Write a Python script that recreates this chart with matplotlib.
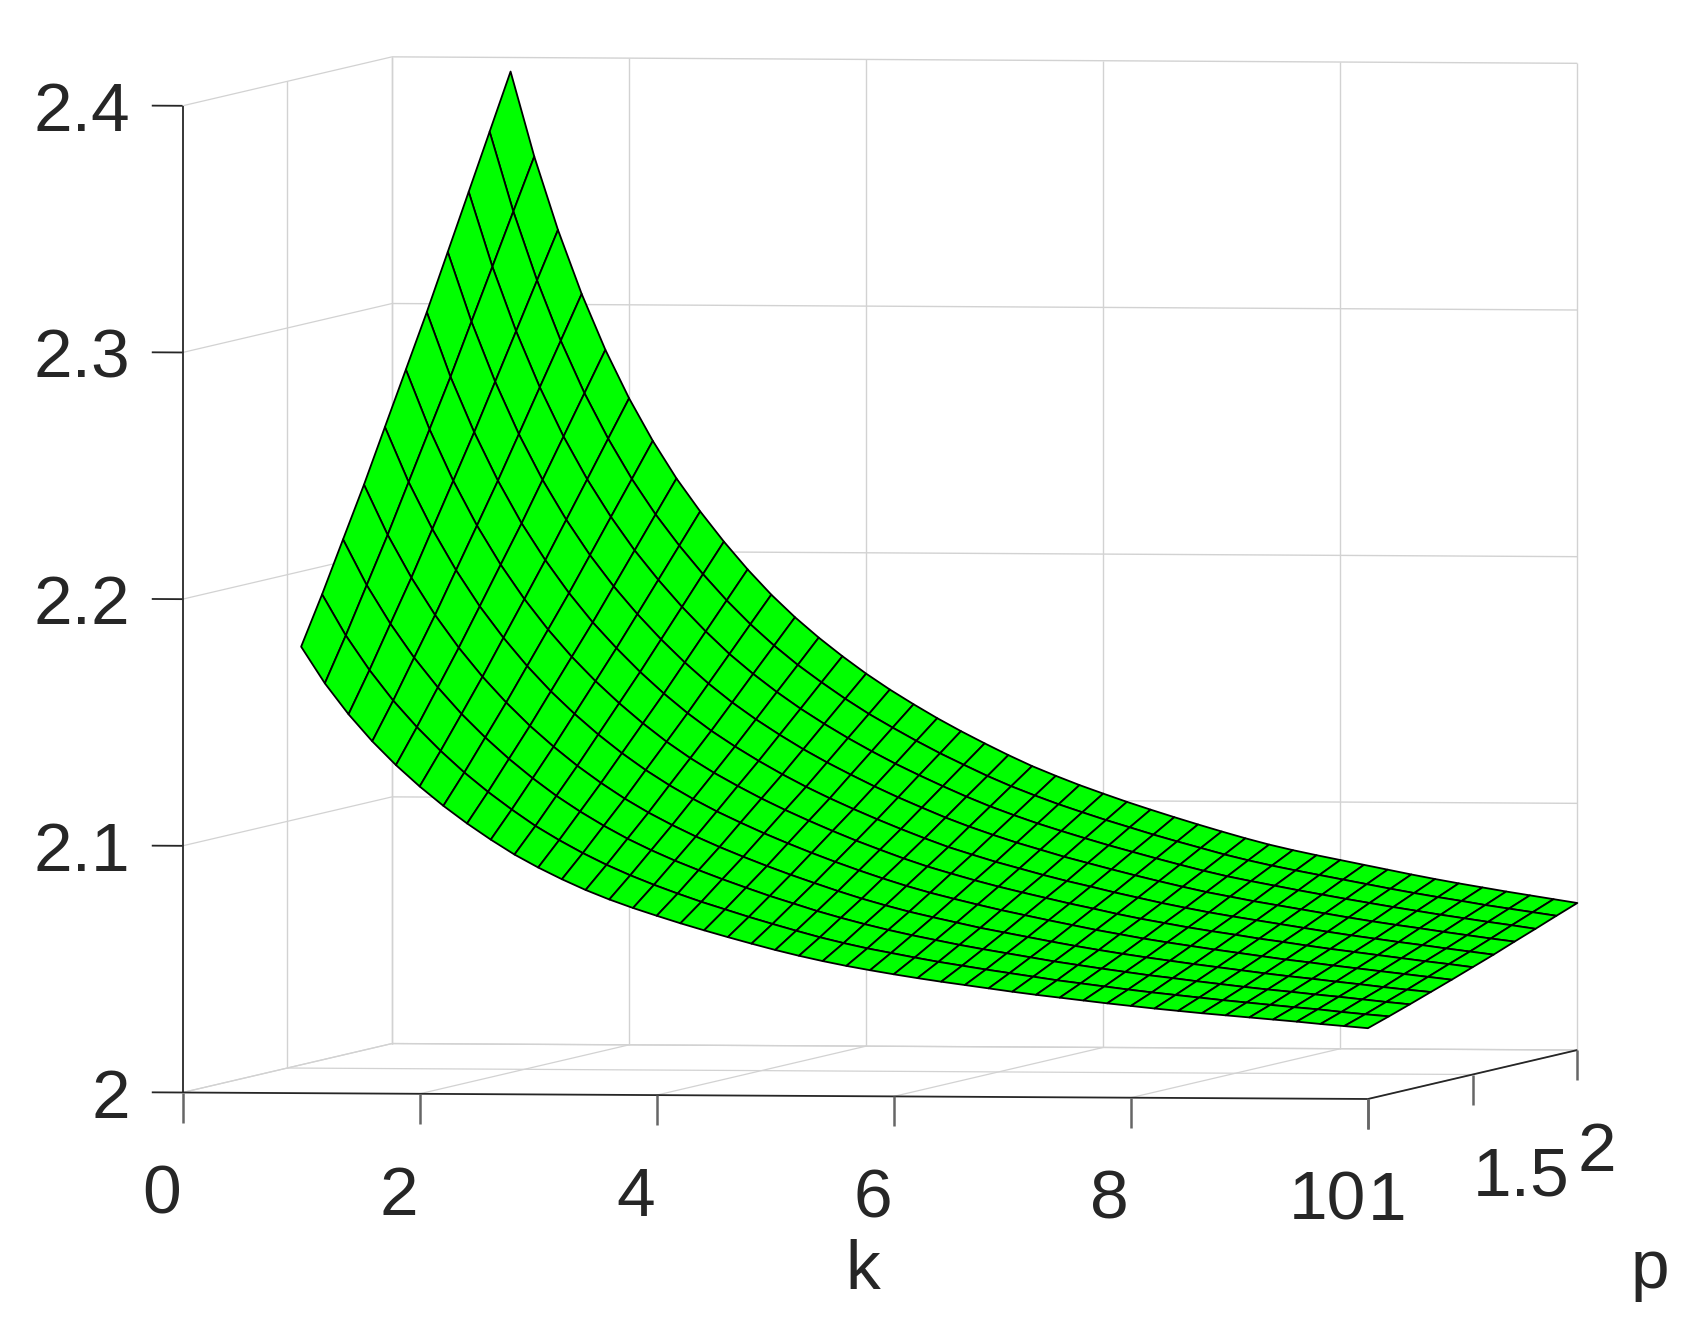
import numpy as np
import matplotlib
matplotlib.use("Agg")
import matplotlib.pyplot as plt
from mpl_toolkits.mplot3d import proj3d

plt.rcParams['font.family'] = ['Liberation Sans', 'DejaVu Sans']

k_values = [1.0, 1.2, 1.4, 1.6, 1.8, 2.0, 2.2, 2.4, 2.6, 2.8, 3.0, 3.2, 3.4, 3.6, 3.8, 4.0,
            4.2, 4.4, 4.6, 4.8, 5.0, 5.2, 5.4, 5.6, 5.8, 6.0, 6.2, 6.4, 6.6, 6.8, 7.0,
            7.2, 7.4, 7.6, 7.8, 8.0, 8.2, 8.4, 8.6, 8.8, 9.0, 9.2, 9.4, 9.6, 9.8, 10.0]
p_values = [1.0, 1.1, 1.2, 1.3, 1.4, 1.5, 1.6, 1.7, 1.8, 1.9, 2.0]

# one row per k, one column per p
z_values = [
    [2.1810, 2.2002, 2.2205, 2.2407, 2.2621, 2.2834, 2.3047, 2.3271, 2.3495, 2.3719, 2.3943],
    [2.1662, 2.1836, 2.2020, 2.2204, 2.2398, 2.2592, 2.2785, 2.2989, 2.3192, 2.3396, 2.3599],
    [2.1537, 2.1696, 2.1864, 2.2031, 2.2208, 2.2384, 2.2561, 2.2746, 2.2931, 2.3117, 2.3302],
    [2.1428, 2.1573, 2.1727, 2.1880, 2.2042, 2.2203, 2.2365, 2.2534, 2.2704, 2.2873, 2.3043],
    [2.1332, 2.1466, 2.1607, 2.1748, 2.1896, 2.2045, 2.2193, 2.2349, 2.2505, 2.2661, 2.2817],
    [2.1246, 2.1370, 2.1500, 2.1631, 2.1769, 2.1906, 2.2044, 2.2188, 2.2332, 2.2477, 2.2621],
    [2.1168, 2.1283, 2.1405, 2.1527, 2.1655, 2.1783, 2.1911, 2.2045, 2.2180, 2.2314, 2.2449],
    [2.1097, 2.1205, 2.1319, 2.1433, 2.1553, 2.1673, 2.1793, 2.1919, 2.2045, 2.2171, 2.2297],
    [2.1032, 2.1134, 2.1241, 2.1349, 2.1462, 2.1575, 2.1689, 2.1807, 2.1926, 2.2045, 2.2164],
    [2.0972, 2.1068, 2.1170, 2.1272, 2.1379, 2.1486, 2.1593, 2.1705, 2.1817, 2.1930, 2.2042],
    [2.0920, 2.1011, 2.1107, 2.1203, 2.1304, 2.1405, 2.1506, 2.1612, 2.1718, 2.1824, 2.1930],
    [2.0873, 2.0959, 2.1050, 2.1140, 2.1236, 2.1331, 2.1427, 2.1527, 2.1627, 2.1728, 2.1828],
    [2.0830, 2.0912, 2.0998, 2.1084, 2.1175, 2.1265, 2.1356, 2.1451, 2.1547, 2.1642, 2.1737],
    [2.0792, 2.0870, 2.0952, 2.1034, 2.1120, 2.1206, 2.1293, 2.1383, 2.1474, 2.1564, 2.1655],
    [2.0758, 2.0832, 2.0910, 2.0988, 2.1070, 2.1153, 2.1235, 2.1321, 2.1407, 2.1494, 2.1580],
    [2.0727, 2.0797, 2.0872, 2.0946, 2.1025, 2.1103, 2.1181, 2.1263, 2.1346, 2.1428, 2.1510],
    [2.0697, 2.0764, 2.0836, 2.0907, 2.0982, 2.1057, 2.1131, 2.1210, 2.1289, 2.1367, 2.1446],
    [2.0669, 2.0734, 2.0802, 2.0870, 2.0942, 2.1014, 2.1085, 2.1161, 2.1236, 2.1312, 2.1387],
    [2.0642, 2.0704, 2.0769, 2.0835, 2.0904, 2.0973, 2.1042, 2.1114, 2.1186, 2.1259, 2.1331],
    [2.0616, 2.0676, 2.0739, 2.0802, 2.0868, 2.0934, 2.1001, 2.1070, 2.1140, 2.1209, 2.1279],
    [2.0591, 2.0649, 2.0709, 2.0770, 2.0834, 2.0898, 2.0962, 2.1029, 2.1096, 2.1163, 2.1230],
    [2.0568, 2.0623, 2.0682, 2.0740, 2.0802, 2.0863, 2.0925, 2.0989, 2.1054, 2.1118, 2.1183],
    [2.0547, 2.0600, 2.0657, 2.0713, 2.0772, 2.0831, 2.0890, 2.0953, 2.1015, 2.1077, 2.1139],
    [2.0528, 2.0579, 2.0634, 2.0688, 2.0745, 2.0803, 2.0860, 2.0920, 2.0980, 2.1040, 2.1100],
    [2.0511, 2.0561, 2.0613, 2.0666, 2.0721, 2.0776, 2.0831, 2.0889, 2.0947, 2.1005, 2.1063],
    [2.0495, 2.0543, 2.0594, 2.0645, 2.0698, 2.0751, 2.0805, 2.0861, 2.0917, 2.0973, 2.1029],
    [2.0480, 2.0526, 2.0575, 2.0624, 2.0676, 2.0728, 2.0779, 2.0833, 2.0888, 2.0942, 2.0996],
    [2.0466, 2.0511, 2.0558, 2.0606, 2.0656, 2.0706, 2.0755, 2.0808, 2.0860, 2.0913, 2.0965],
    [2.0453, 2.0496, 2.0542, 2.0588, 2.0636, 2.0684, 2.0733, 2.0783, 2.0834, 2.0884, 2.0935],
    [2.0440, 2.0482, 2.0526, 2.0570, 2.0617, 2.0664, 2.0710, 2.0759, 2.0808, 2.0857, 2.0906],
    [2.0427, 2.0468, 2.0510, 2.0553, 2.0598, 2.0643, 2.0689, 2.0736, 2.0783, 2.0831, 2.0878],
    [2.0415, 2.0454, 2.0496, 2.0537, 2.0581, 2.0624, 2.0668, 2.0714, 2.0759, 2.0805, 2.0851],
    [2.0404, 2.0442, 2.0482, 2.0522, 2.0564, 2.0607, 2.0649, 2.0693, 2.0737, 2.0782, 2.0826],
    [2.0393, 2.0430, 2.0469, 2.0508, 2.0549, 2.0590, 2.0631, 2.0675, 2.0718, 2.0761, 2.0804],
    [2.0382, 2.0418, 2.0456, 2.0495, 2.0535, 2.0575, 2.0615, 2.0657, 2.0700, 2.0742, 2.0784],
    [2.0372, 2.0407, 2.0445, 2.0482, 2.0521, 2.0561, 2.0600, 2.0641, 2.0682, 2.0724, 2.0765],
    [2.0362, 2.0397, 2.0433, 2.0470, 2.0508, 2.0546, 2.0585, 2.0625, 2.0665, 2.0706, 2.0746],
    [2.0353, 2.0387, 2.0422, 2.0458, 2.0495, 2.0533, 2.0570, 2.0609, 2.0648, 2.0688, 2.0727],
    [2.0344, 2.0377, 2.0411, 2.0446, 2.0482, 2.0519, 2.0555, 2.0593, 2.0632, 2.0670, 2.0708],
    [2.0336, 2.0368, 2.0401, 2.0435, 2.0471, 2.0506, 2.0541, 2.0578, 2.0616, 2.0653, 2.0690],
    [2.0328, 2.0359, 2.0392, 2.0425, 2.0459, 2.0494, 2.0528, 2.0564, 2.0601, 2.0637, 2.0673],
    [2.0320, 2.0350, 2.0382, 2.0414, 2.0448, 2.0482, 2.0515, 2.0551, 2.0586, 2.0622, 2.0657],
    [2.0312, 2.0342, 2.0373, 2.0404, 2.0437, 2.0470, 2.0503, 2.0537, 2.0572, 2.0606, 2.0641],
    [2.0303, 2.0332, 2.0363, 2.0393, 2.0426, 2.0458, 2.0490, 2.0524, 2.0558, 2.0592, 2.0626],
    [2.0295, 2.0323, 2.0353, 2.0383, 2.0415, 2.0447, 2.0478, 2.0511, 2.0545, 2.0578, 2.0611],
    [2.0287, 2.0315, 2.0344, 2.0374, 2.0404, 2.0435, 2.0466, 2.0499, 2.0531, 2.0564, 2.0596],
]

k_ticks = [0, 2, 4, 6, 8, 10]
p_ticks = [1, 1.5, 2]
z_ticks = [2, 2.1, 2.2, 2.3, 2.4]
k_labels = ['0', '2', '4', '6', '8', '10']
p_labels = ['1', '1.5', '2']
z_labels = ['2', '2.1', '2.2', '2.3', '2.4']

W, H = 1702, 1325
TEXT = '#262626'
GRID = '#d2d2d2'
FS = 50

fig = plt.figure(figsize=(W / 100, H / 100), dpi=100)
ax = fig.add_axes([0, 0, 1, 1], projection='3d', proj_type='ortho')
ax.view_init(elev=2.05, azim=-81.3)
ax.set_xlim(0, 10)
ax.set_ylim(1, 2)
ax.set_zlim(2, 2.4)
ax.set_axis_off()
ax.computed_zorder = False


def to_xy(k, p, z):
    x, y, _ = proj3d.proj_transform(k, p, z, ax.get_proj())
    return x, y


def to_px(k, p, z):
    return ax.transData.transform(to_xy(k, p, z))


# scale the box so the axes land where they are in the reference
aspect = (1104.7, 1275.6, 909.6)
ax.set_box_aspect(aspect, zoom=1)
ax.apply_aspect()
d = to_px(0, 1, 2.4)[1] - to_px(0, 1, 2)[1]
ax.set_box_aspect(aspect, zoom=986.7 / d)
ax.apply_aspect()
o = to_px(0, 1, 2)
ax.set_position([(182.6 - o[0]) / W, ((H - 1092.5) - o[1]) / H, 1, 1])
ax.apply_aspect()


def line(ks, ps, zs, color, lw, zorder=1):
    ax.plot(ks, ps, zs, color=color, lw=lw, zorder=zorder, clip_on=False,
            solid_capstyle='butt')


# back walls and floor
for k in k_ticks:
    line([k, k], [2, 2], [2, 2.4], GRID, 1.0)
    line([k, k], [1, 2], [2, 2], GRID, 0.9)
for p in p_ticks[1:]:
    line([0, 0], [p, p], [2, 2.4], GRID, 1.0)
    line([0, 10], [p, p], [2, 2], GRID, 0.9)
for z in z_ticks:
    line([0, 10], [2, 2], [z, z], GRID, 1.0)
    line([0, 0], [1, 2], [z, z], GRID, 0.9)

K, P = np.meshgrid(k_values, p_values, indexing='ij')
surf = ax.plot_surface(K, P, np.array(z_values), rstride=1, cstride=1, color='#00ff00',
                       edgecolor='black', linewidth=1.3, shade=False, zorder=2)
surf.set_clip_on(False)

# axis lines and ticks
line([0, 10], [1, 1], [2, 2], TEXT, 1.3, 3)
line([10, 10], [1, 2], [2, 2], TEXT, 1.3, 3)
line([0, 0], [1, 1], [2, 2.4], TEXT, 1.3, 3)
for k, lab in zip(k_ticks, k_labels):
    line([k, k], [1, 1], [2, 2 - 0.0122], '#666666', 1.8, 3)
    ax.annotate(lab, to_xy(k, 1, 2), xytext=(-2, -103), textcoords='offset pixels', ha='right',
                va='center', fontsize=FS, color=TEXT, annotation_clip=False)
for p, lab in zip(p_ticks, p_labels):
    line([10, 10], [p, p], [2, 2 - 0.0122], '#666666', 1.8, 3)
    ax.annotate(lab, to_xy(10, p, 2), xytext=(0, -103), textcoords='offset pixels', ha='left',
                va='center', fontsize=FS, color=TEXT, annotation_clip=False)
for z, lab in zip(z_ticks, z_labels):
    line([0, -0.26], [1, 1], [z, z], TEXT, 1.3, 3)
    ax.annotate(lab, to_xy(0, 1, z), xytext=(-52, -7), textcoords='offset pixels', ha='right',
                va='center', fontsize=FS, color=TEXT, annotation_clip=False)

fig.text(863 / W, 1 - 1271 / H, 'k', ha='center', va='center', fontsize=FS, color=TEXT)
fig.text(1650 / W, 1 - 1270 / H, 'p', ha='center', va='center', fontsize=FS, color=TEXT)

fig.savefig('out.png', dpi=100)
